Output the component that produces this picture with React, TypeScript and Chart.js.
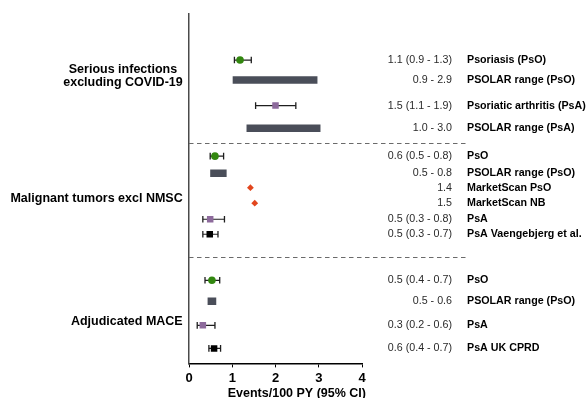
import React, { useEffect, useRef } from "react";
import { Chart, registerables } from "chart.js";

Chart.register(...registerables);

// ---- data ----
const rowLabels = [
  "Psoriasis (PsO)",
  "PSOLAR range (PsO)",
  "Psoriatic arthritis (PsA)",
  "PSOLAR range (PsA)",
  "PsO",
  "PSOLAR range (PsO)",
  "MarketScan PsO",
  "MarketScan NB",
  "PsA",
  "PsA Vaengebjerg et al.",
  "PsO",
  "PSOLAR range (PsO)",
  "PsA",
  "PsA UK CPRD",
];
const valueLabels = [
  "1.1 (0.9 - 1.3)",
  "0.9 - 2.9",
  "1.5 (1.1 - 1.9)",
  "1.0 - 3.0",
  "0.6 (0.5 - 0.8)",
  "0.5 - 0.8",
  "1.4",
  "1.5",
  "0.5 (0.3 - 0.8)",
  "0.5 (0.3 - 0.7)",
  "0.5 (0.4 - 0.7)",
  "0.5 - 0.6",
  "0.3 (0.2 - 0.6)",
  "0.6 (0.4 - 0.7)",
];
const rowPositions = [4.6, 6.6, 9.15, 11.4, 14.2, 15.9, 17.35, 18.9, 20.5, 22.0, 26.6, 28.7, 31.1, 33.4];
const rowKinds = ["green", "range", "purple", "range", "green", "range", "diamond", "diamond", "purple", "black", "green", "range", "purple", "black"];
const pointValues = [1.18, null, 2.0, null, 0.6, null, 1.42, 1.52, 0.49, 0.48, 0.53, null, 0.32, 0.58];
const lowValues = [1.05, 1.01, 1.54, 1.33, 0.49, 0.49, null, null, 0.32, 0.32, 0.37, 0.43, 0.19, 0.46];
const highValues = [1.44, 2.97, 2.47, 3.04, 0.8, 0.87, null, null, 0.82, 0.67, 0.71, 0.63, 0.6, 0.73];

const groupLabels = [["Serious infections", "excluding COVID-19"], ["Malignant tumors excl NMSC"], ["Adjudicated MACE"]];
const groupPositions = [6.2, 18.4, 30.7];
const separatorPositions = [12.9, 24.3];

const xMin = 0;
const xMax = 4;
const xStep = 1;
const yMin = 0;
const yMax = 34.9;
const xTitle = "Events/100 PY (95% CI)";

// ---- styles ----
const FONT = "'Liberation Sans', Arial, Helvetica, sans-serif";
const kindStyles: Record<string, { color: string; style: string; radius: number }> = {
  green: { color: "#32870f", style: "circle", radius: 3.8 },
  purple: { color: "#8d6a9c", style: "rect", radius: 4.6 },
  black: { color: "#000000", style: "rect", radius: 4.6 },
  diamond: { color: "#e2461d", style: "rectRot", radius: 3.4 },
};
const BAR_COLOR = "#4a4e59";
const WHISKER = "#1e1e1e";

const overlayPlugin = {
  id: "forestOverlay",
  afterDraw(chart: any) {
    const { ctx, chartArea, scales } = chart;
    const y = scales.y;
    ctx.save();
    // separators
    ctx.strokeStyle = "#6a6a6a";
    ctx.lineWidth = 1;
    ctx.setLineDash([4.5, 3.5]);
    separatorPositions.forEach((p) => {
      const py = Math.round(y.getPixelForValue(p)) + 0.5;
      ctx.beginPath();
      ctx.moveTo(chartArea.left, py);
      ctx.lineTo(chartArea.right + 106, py);
      ctx.stroke();
    });
    ctx.setLineDash([]);

    // right texts
    ctx.textBaseline = "middle";
    rowLabels.forEach((lab, i) => {
      const py = y.getPixelForValue(rowPositions[i]);
      ctx.font = `10.7px ${FONT}`;
      ctx.fillStyle = "#2a2a2a";
      ctx.textAlign = "right";
      ctx.fillText(valueLabels[i], chartArea.right + 90, py);
      ctx.font = `bold 10.7px ${FONT}`;
      ctx.fillStyle = "#000";
      ctx.textAlign = "left";
      ctx.fillText(lab, chartArea.right + 105, py);
    });

    // group labels
    ctx.font = `bold 12.5px ${FONT}`;
    ctx.fillStyle = "#000";
    const rightEdge = chartArea.left - 6.3;
    groupLabels.forEach((lines, g) => {
      const cy = y.getPixelForValue(groupPositions[g]);
      const lh = 13;
      const widest = Math.max(...lines.map((l) => ctx.measureText(l).width));
      const cx = rightEdge - widest / 2;
      ctx.textAlign = "center";
      lines.forEach((l, k) => {
        const ly = cy + (k - (lines.length - 1) / 2) * lh;
        ctx.fillText(l, cx, ly);
      });
    });

    // x title
    ctx.font = `bold 12.5px ${FONT}`;
    ctx.textAlign = "right";
    ctx.fillText(xTitle, chartArea.right + 4, chartArea.bottom + 30);
    ctx.restore();
  },
};

export default function App() {
  const ref = useRef<HTMLCanvasElement | null>(null);

  useEffect(() => {
    if (!ref.current) return;
    const datasets: any[] = [];

    // markers
    Object.keys(kindStyles).forEach((kind) => {
      const st = kindStyles[kind];
      const data = rowKinds
        .map((k, i) => (k === kind && pointValues[i] != null ? { x: pointValues[i], y: rowPositions[i] } : null))
        .filter((d) => d !== null);
      datasets.push({
        type: "scatter",
        data,
        pointStyle: st.style,
        pointRadius: st.radius,
        pointBackgroundColor: st.color,
        pointBorderColor: st.color,
        pointBorderWidth: 0,
        showLine: false,
        order: 0,
      });
    });

    // whiskers & range bars
    rowKinds.forEach((k, i) => {
      const lo = lowValues[i];
      const hi = highValues[i];
      if (lo == null || hi == null) return;
      const data = [
        { x: lo, y: rowPositions[i] },
        { x: hi, y: rowPositions[i] },
      ];
      if (k === "range") {
        datasets.push({
          type: "scatter",
          data,
          showLine: true,
          borderColor: BAR_COLOR,
          borderWidth: 7.5,
          borderCapStyle: "butt",
          pointRadius: 0,
          order: 2,
        });
      } else {
        datasets.push({
          type: "scatter",
          data,
          showLine: true,
          borderColor: WHISKER,
          borderWidth: 1.2,
          pointStyle: "line",
          pointRotation: 90,
          pointRadius: 3.3,
          pointBorderColor: WHISKER,
          pointBorderWidth: 1.3,
          order: 1,
        });
      }
    });

    const chart = new Chart(ref.current, {
      type: "scatter",
      data: { datasets },
      options: {
        responsive: false,
        animation: false,
        devicePixelRatio: 1,
        layout: { padding: { left: 189, right: 225, top: 14, bottom: 9 } },
        plugins: { legend: { display: false }, tooltip: { enabled: false } },
        scales: {
          x: {
            type: "linear",
            min: xMin,
            max: xMax,
            ticks: {
              stepSize: xStep,
              color: "#000",
              padding: 3,
              font: { family: FONT, size: 13, weight: "bold" },
            },
            grid: { display: true, drawOnChartArea: false, drawTicks: true, tickLength: 4, color: "#000", lineWidth: 1 },
            border: { display: true, color: "#000", width: 1.5 },
          },
          y: {
            type: "linear",
            min: yMin,
            max: yMax,
            reverse: true,
            ticks: { display: false },
            grid: { display: false, drawTicks: false },
            border: { display: true, color: "#4a4a4a", width: 1.5 },
          },
        },
      },
      plugins: [overlayPlugin],
    } as any);
    return () => chart.destroy();
  }, []);

  return (
    <canvas
      ref={ref}
      width={587}
      height={398}
      style={{ display: "block", position: "absolute", left: 0, top: 0 }}
    />
  );
}
